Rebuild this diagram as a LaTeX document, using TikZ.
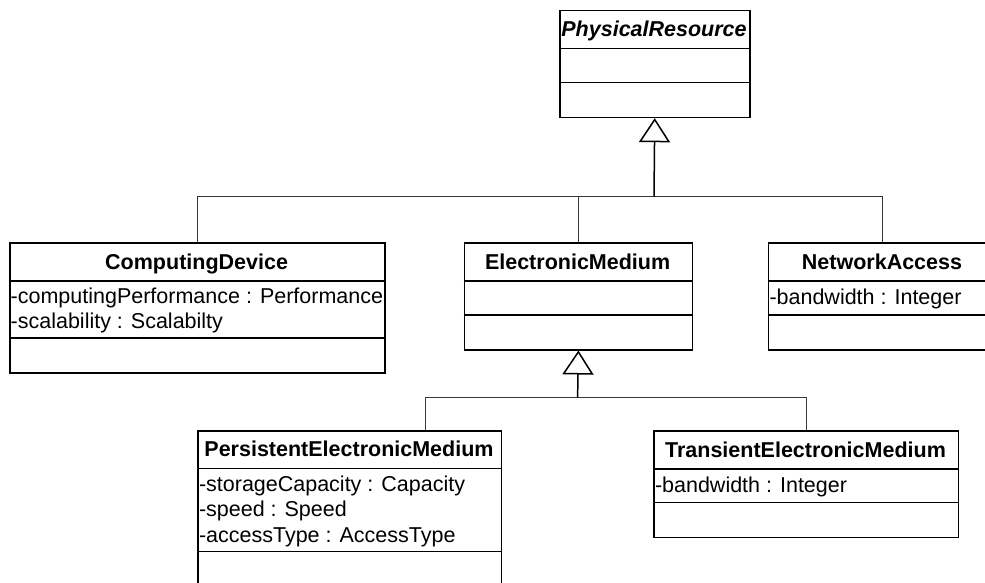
\documentclass[tikz,border=0pt]{standalone}
\usepackage{fontspec}
\setmainfont{Liberation Sans}
\usetikzlibrary{arrows.meta}
\begin{document}
\begin{tikzpicture}[x=1pt,y=-1pt,
  classbox/.style={draw, line width=1.5pt, inner sep=0pt, anchor=north west},
  sepline/.style={line width=1.5pt},
  conn/.style={line width=1pt, draw=black!78},
  stem/.style={line width=1.5pt, -{Triangle[open,length=24pt,width=31pt]}},
  title/.style={font=\fontsize{21.5}{25.5}\selectfont\bfseries, anchor=base, inner sep=0pt},
  attr/.style={font=\fontsize{21.5}{25.5}\selectfont, anchor=base west, inner sep=0pt},
]
\useasboundingbox (0,0) rectangle (985,583);

% class boxes
\node[classbox, minimum width=190pt, minimum height=106.7pt] (pr) at (559,10) {};
\node[classbox, minimum width=375.3pt, minimum height=130pt] (cd) at (9,242) {};
\node[classbox, minimum width=228.1pt, minimum height=106.7pt] (em) at (463.6,242.3) {};
\node[classbox, minimum width=228.4pt, minimum height=106.7pt] (na) at (767.8,242.3) {};
\node[classbox, minimum width=303.4pt, minimum height=200pt] (pem) at (197.3,430) {};
\node[classbox, minimum width=304.4pt, minimum height=106.7pt] (tem) at (653.3,430) {};

% compartment separators
\draw[sepline] (pr.north west) ++(0,38.7) -- ++(190,0);
\draw[sepline] (pr.north west) ++(0,72.7) -- ++(190,0);
\draw[sepline] (cd.north west) ++(0,39) -- ++(375.3,0);
\draw[sepline] (cd.north west) ++(0,96) -- ++(375.3,0);
\draw[sepline] (em.north west) ++(0,38.7) -- ++(228.1,0);
\draw[sepline] (em.north west) ++(0,72.7) -- ++(228.1,0);
\draw[sepline] (na.north west) ++(0,38.7) -- ++(228.4,0);
\draw[sepline] (na.north west) ++(0,72.7) -- ++(228.4,0);
\draw[sepline] (pem.north west) ++(0,38.3) -- ++(303.4,0);
\draw[sepline] (pem.north west) ++(0,121.7) -- ++(303.4,0);
\draw[sepline] (tem.north west) ++(0,39) -- ++(304.4,0);
\draw[sepline] (tem.north west) ++(0,72.7) -- ++(304.4,0);

% class names
\node[title, font=\fontsize{21.5}{25.5}\selectfont\bfseries\itshape] (prT) at (654,37) {PhysicalResource};
\node[title] (cdT) at (196.6,269.2) {ComputingDevice};
\node[title] (emT) at (577.6,269.2) {ElectronicMedium};
\node[title] (naT) at (882,269.2) {NetworkAccess};
\node[title] (pemT) at (349,456.6) {PersistentElectronicMedium};
\node[title] (temT) at (805.5,457) {TransientElectronicMedium};

% attributes
\node[attr] (cdA1) at (10.5,303) {-computingPerformance : Performance};
\node[attr] (cdA2) at (10.5,328.8) {-scalability : Scalabilty};
\node[attr] (naA1) at (769.3,304) {-bandwidth : Integer};
\node[attr] (pemA1) at (198.8,491) {-storageCapacity : Capacity};
\node[attr] (pemA2) at (198.8,516.5) {-speed : Speed};
\node[attr] (pemA3) at (198.8,542) {-accessType : AccessType};
\node[attr] (temA1) at (654.8,492) {-bandwidth : Integer};

% generalization tree to PhysicalResource
\coordinate (j1) at (654,196.7);
\draw[conn] (cd.north) |- (j1);
\draw[conn] (em.north) |- (j1);
\draw[conn] (na.north) |- (j1);
\draw[stem] (j1) -- (pr.south);

% generalization tree to ElectronicMedium
\coordinate (j2) at (577.6,397.7);
\draw[conn] (pem.north west) ++(228.4,0) |- (j2);
\draw[conn] (tem.north) |- (j2);
\draw[stem] (j2) -- (em.south);
\end{tikzpicture}
\end{document}
